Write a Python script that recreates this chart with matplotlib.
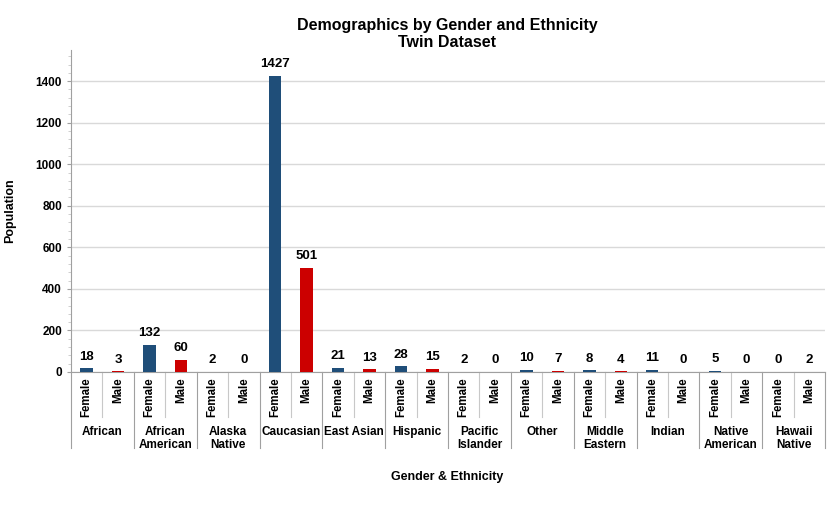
import matplotlib.pyplot as plt
import matplotlib.transforms as mtransforms
from matplotlib.ticker import MultipleLocator
import numpy as np

ethnicities = ['African', 'African\nAmerican', 'Alaska\nNative', 'Caucasian', 'East Asian',
               'Hispanic', 'Pacific\nIslander', 'Other', 'Middle\nEastern', 'Indian',
               'Native\nAmerican', 'Hawaii\nNative']
genders = ['Female', 'Male']
female = [18, 132, 2, 1427, 21, 28, 2, 10, 8, 11, 5, 0]
male = [3, 60, 0, 501, 13, 15, 0, 7, 4, 0, 0, 2]

blue = '#1F4E79'
red = '#CC0000'
axis_gray = '#A0A0A0'

plt.rcParams['font.family'] = ['Liberation Sans', 'DejaVu Sans']

fig = plt.figure(figsize=(8.30, 5.22), dpi=100)
ax = fig.add_axes([71 / 830, 150 / 522, 754 / 830, 322 / 522])

n = len(ethnicities)
xf = np.arange(n) * 2
xm = xf + 1
bf = ax.bar(xf, female, width=0.4, color=blue, zorder=3)
bm = ax.bar(xm, male, width=0.4, color=red, zorder=3)

for bars, vals in ((bf, female), (bm, male)):
    for rect, v in zip(bars, vals):
        ax.annotate(str(v), (rect.get_x() + rect.get_width() / 2, v),
                    xytext=(0, 4), textcoords='offset points', ha='center', va='bottom',
                    fontsize=9.5, fontweight='bold')

ax.set_xlim(-0.5, 2 * n - 0.5)
ax.set_ylim(0, 1550)
ax.yaxis.set_major_locator(MultipleLocator(200))
ax.yaxis.set_minor_locator(MultipleLocator(40))
ax.grid(axis='y', which='major', color='#D9D9D9', lw=1, zorder=0)
ax.tick_params(axis='y', which='major', length=3, color=axis_gray, labelsize=8.5)
ax.tick_params(axis='y', which='minor', length=2.5, color='#C8C8C8')
for lbl in ax.get_yticklabels():
    lbl.set_fontweight('bold')

ax.set_xticks(np.arange(2 * n))
ax.set_xticklabels(genders * n, rotation=90, fontsize=8.3, fontweight='bold', va='top')
ax.tick_params(axis='x', length=0, pad=4)

for s in ('top', 'right'):
    ax.spines[s].set_visible(False)
ax.spines['left'].set_color(axis_gray)
ax.spines['bottom'].set_color(axis_gray)

# two-level category axis: separators and ethnicity labels
trans = mtransforms.blended_transform_factory(ax.transData, ax.transAxes)
px = 1 / 322
for i in range(n + 1):
    ax.plot([2 * i - 0.5] * 2, [0, -76 * px], transform=trans, color=axis_gray,
            lw=0.8, clip_on=False)
for i in range(n):
    ax.plot([2 * i + 0.5] * 2, [0, -45 * px], transform=trans, color='#C8C8C8',
            lw=0.8, clip_on=False)
    ax.text(2 * i + 0.5, -54 * px, ethnicities[i], transform=trans, ha='center', va='top',
            fontsize=8.5, fontweight='bold', linespacing=1.15)

ax.set_ylabel('Population', fontsize=9, fontweight='bold', labelpad=14)
fig.text(447 / 830, 1 - 477 / 522, 'Gender & Ethnicity', ha='center', va='center',
         fontsize=9, fontweight='bold')
fig.text(447 / 830, 1 - 34 / 522, 'Demographics by Gender and Ethnicity\nTwin Dataset',
         ha='center', va='center', fontsize=11.5, fontweight='bold', linespacing=1.1)

fig.savefig('out.png', dpi=100)
